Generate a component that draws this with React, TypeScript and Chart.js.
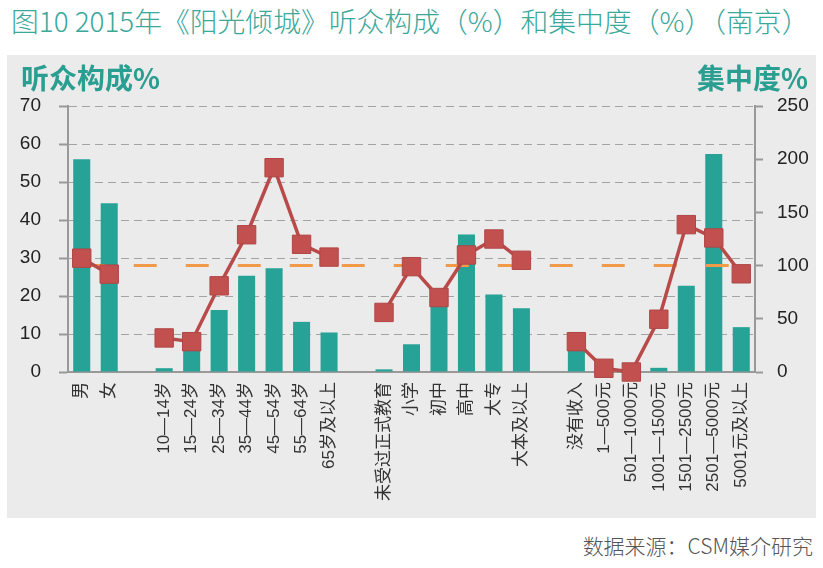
import React, { useEffect, useRef } from 'react';
import { Chart, registerables } from 'chart.js';

Chart.register(...registerables);

// categories, with blank slots separating the groups (gender / age / education / income)
const categories = [
  '男', '女', '',
  '10—14岁', '15—24岁', '25—34岁', '35—44岁', '45—54岁', '55—64岁', '65岁及以上', '',
  '未受过正式教育', '小学', '初中', '高中', '大专', '大本及以上', '',
  '没有收入', '1—500元', '501—1000元', '1001—1500元', '1501—2500元', '2501—5000元', '5001元及以上',
];

// 听众构成 % (left axis)
const audienceShare = [
  56, 44.4, null,
  1.0, 6, 16.3, 25.3, 27.3, 13.2, 10.4, null,
  0.7, 7.3, 17.5, 36.2, 20.4, 16.8, null,
  5.8, 0, 0, 1.1, 22.7, 57.4, 11.8,
];

// 集中度 % (right axis)
const concentration = [
  107, 92, null,
  32, 28.5, 81, 129, 192, 120, 108, null,
  56, 99, 70, 110, 125, 105, null,
  28.5, 3.5, 0, 49.6, 138.5, 126, 92.3,
];

const referenceLevel = 100;
const leftTicks = [0, 10, 20, 30, 40, 50, 60, 70];
const rightTicks = [0, 50, 100, 150, 200, 250];

const FONT = '"Liberation Sans", "Noto Sans CJK SC", sans-serif';
const TEAL = '#26A396';

const App: React.FC = () => {
  const chartRef = useRef<HTMLCanvasElement>(null);

  useEffect(() => {
    if (!chartRef.current) return;
    const chart = new Chart(chartRef.current, {
      type: 'bar',
      data: {
        labels: categories,
        datasets: [
          {
            type: 'line',
            label: '集中度',
            data: concentration,
            yAxisID: 'y1',
            borderColor: '#B84A4A',
            borderWidth: 3.5,
            pointStyle: 'rect',
            pointRadius: 13,
            pointBackgroundColor: '#C2504E',
            pointBorderColor: '#B04646',
            pointBorderWidth: 1,
            spanGaps: false,
            clip: false,
            order: 0,
          },
          {
            type: 'line',
            label: '基准',
            data: categories.map(() => referenceLevel),
            yAxisID: 'y1',
            borderColor: '#F39A48',
            borderWidth: 3,
            borderDash: [23, 29],
            pointRadius: 0,
            order: 1,
          },
          {
            type: 'bar',
            label: '听众构成',
            data: audienceShare,
            yAxisID: 'y',
            backgroundColor: TEAL,
            barPercentage: 0.62,
            categoryPercentage: 1,
            order: 2,
          },
        ],
      },
      options: {
        animation: false,
        responsive: true,
        maintainAspectRatio: false,
        layout: { padding: { top: 51, left: 0, right: 0, bottom: 0 } },
        plugins: { legend: { display: false }, tooltip: { enabled: false } },
        scales: {
          x: {
            grid: { display: false, drawTicks: false },
            border: { color: '#999999', width: 2 },
            ticks: {
              autoSkip: false,
              maxRotation: 90,
              minRotation: 90,
              padding: 10,
              color: '#333333',
              font: { family: FONT, size: 17 },
            },
            afterFit: (s: any) => { s.height = 146; },
          },
          y: {
            position: 'left',
            min: leftTicks[0],
            max: leftTicks[leftTicks.length - 1],
            ticks: {
              stepSize: leftTicks[1] - leftTicks[0],
              padding: 18,
              color: '#222222',
              font: { family: FONT, size: 19 },
            },
            grid: { color: '#A3A3A3', lineWidth: 1, tickLength: 9, tickColor: '#999999', tickWidth: 2 },
            border: { color: '#999999', width: 2, dash: [8, 5] },
            afterFit: (s: any) => { s.width = 61; },
          },
          y1: {
            position: 'right',
            min: rightTicks[0],
            max: rightTicks[rightTicks.length - 1],
            ticks: {
              stepSize: rightTicks[1] - rightTicks[0],
              padding: 14,
              color: '#222222',
              font: { family: FONT, size: 19 },
            },
            grid: { drawOnChartArea: false, tickLength: 8, tickColor: '#999999', tickWidth: 2 },
            border: { color: '#999999', width: 2 },
            afterFit: (s: any) => { s.width = 61; },
          },
        },
      },
    });
    return () => chart.destroy();
  }, []);

  return (
    <div style={{ position: 'absolute', left: 0, top: 0, width: 823, height: 568, background: '#ffffff', fontFamily: '"Noto Sans CJK SC", sans-serif' }}>
      <div style={{ position: 'absolute', left: 11, top: 4, fontSize: 27.8, fontWeight: 300, lineHeight: '32px', color: '#3AA89B', whiteSpace: 'nowrap' }}>
        图10 2015年《阳光倾城》听众构成（%）和集中度（%）（南京）
      </div>
      <div style={{ position: 'absolute', left: 7, top: 55, width: 809, height: 463, background: '#EBEBEB' }}>
        <canvas ref={chartRef} />
      </div>
      <div style={{ position: 'absolute', left: 21, top: 60, fontSize: 28, fontWeight: 700, lineHeight: '34px', color: '#2A9E90', whiteSpace: 'nowrap' }}>
        听众构成%
      </div>
      <div style={{ position: 'absolute', right: 15, top: 60, fontSize: 28, fontWeight: 700, lineHeight: '34px', color: '#2A9E90', whiteSpace: 'nowrap' }}>
        集中度%
      </div>
      <div style={{ position: 'absolute', right: 10, top: 531, fontSize: 21, fontWeight: 300, lineHeight: '28px', color: '#555555', whiteSpace: 'nowrap' }}>
        数据来源：CSM媒介研究
      </div>
    </div>
  );
};

export default App;
